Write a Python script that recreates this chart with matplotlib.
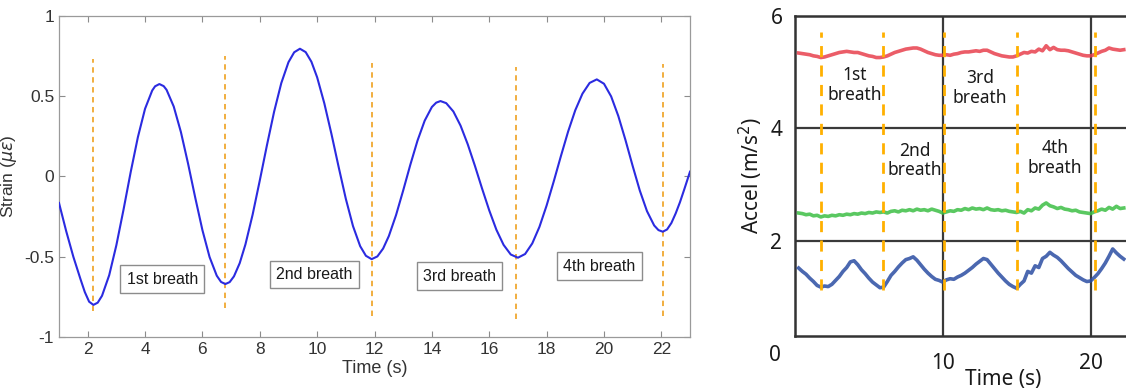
import numpy as np
import matplotlib
matplotlib.use("Agg")
import matplotlib.pyplot as plt
from matplotlib.ticker import FormatStrFormatter

plt.rcParams['axes.unicode_minus'] = False

# ---- left panel: strain sensor ----
strain_t = [1.0, 1.25, 1.5, 1.75, 1.9, 2.05, 2.2, 2.35, 2.5, 2.75, 3.0, 3.25, 3.5, 3.75,
            4.0, 4.25, 4.35, 4.5, 4.65, 4.75, 5.0, 5.25, 5.5, 5.75, 6.0, 6.25, 6.5, 6.65,
            6.8, 6.95, 7.1, 7.3, 7.5, 7.75, 8.0, 8.25, 8.5, 8.75, 9.0, 9.2, 9.4, 9.6, 9.8,
            10.0, 10.25, 10.5, 10.75, 11.0, 11.25, 11.5, 11.7, 11.9, 12.1, 12.3, 12.5,
            12.75, 13.0, 13.25, 13.5, 13.75, 14.0, 14.15, 14.3, 14.5, 14.75, 15.0, 15.25,
            15.5, 15.75, 16.0, 16.25, 16.5, 16.75, 17.0, 17.25, 17.5, 17.75, 18.0, 18.25,
            18.5, 18.75, 19.0, 19.25, 19.5, 19.75, 20.0, 20.25, 20.5, 20.75, 21.0, 21.25,
            21.5, 21.75, 21.9, 22.05, 22.2, 22.35, 22.5, 22.65, 22.8, 23.0]
strain = [-0.165, -0.34, -0.50, -0.64, -0.72, -0.78, -0.80, -0.786, -0.743, -0.615, -0.428,
          -0.206, 0.028, 0.245, 0.422, 0.536, 0.562, 0.576, 0.563, 0.540, 0.436, 0.277,
          0.080, -0.132, -0.334, -0.502, -0.618, -0.657, -0.67, -0.658, -0.622, -0.54,
          -0.423, -0.238, -0.025, 0.195, 0.404, 0.582, 0.712, 0.774, 0.796, 0.775, 0.715,
          0.618, 0.456, 0.264, 0.059, -0.139, -0.309, -0.434, -0.494, -0.515, -0.498,
          -0.449, -0.371, -0.241, -0.087, 0.074, 0.224, 0.348, 0.433, 0.460, 0.47, 0.457,
          0.405, 0.317, 0.201, 0.067, -0.075, -0.211, -0.332, -0.426, -0.486, -0.506,
          -0.483, -0.417, -0.314, -0.181, -0.030, 0.128, 0.280, 0.413, 0.516, 0.583, 0.605,
          0.578, 0.499, 0.377, 0.227, 0.066, -0.088, -0.216, -0.305, -0.334, -0.344, -0.33,
          -0.29, -0.23, -0.16, -0.08, 0.03]

strain_marks = [2.2, 6.8, 11.9, 16.95, 22.05]
strain_mark_top = [0.73, 0.75, 0.71, 0.68, 0.70]
strain_mark_bot = [-0.84, -0.82, -0.87, -0.89, -0.87]

strain_labels = ["1st breath", "2nd breath", "3rd breath", "4th breath"]
strain_label_x = [4.6, 9.9, 14.96, 19.84]
strain_label_y = [-0.64, -0.61, -0.62, -0.56]

# ---- right panel: accelerometer ----
accel_blue = [1.51, 1.45, 1.40, 1.33, 1.27, 1.20, 1.17, 1.19, 1.18, 1.22, 1.29, 1.36, 1.45,
              1.52, 1.62, 1.64, 1.57, 1.48, 1.41, 1.33, 1.26, 1.21, 1.16, 1.17, 1.27, 1.38,
              1.45, 1.53, 1.60, 1.66, 1.68, 1.71, 1.65, 1.57, 1.49, 1.42, 1.36, 1.31, 1.29,
              1.26, 1.30, 1.32, 1.31, 1.35, 1.38, 1.42, 1.47, 1.52, 1.58, 1.63, 1.68, 1.66,
              1.58, 1.50, 1.42, 1.35, 1.28, 1.22, 1.18, 1.15, 1.22, 1.28, 1.45, 1.42, 1.55,
              1.52, 1.68, 1.72, 1.79, 1.74, 1.70, 1.64, 1.57, 1.50, 1.44, 1.38, 1.34, 1.30,
              1.27, 1.28, 1.34, 1.41, 1.50, 1.60, 1.72, 1.85, 1.78, 1.72, 1.67]
accel_red = [5.34, 5.33, 5.32, 5.31, 5.29, 5.28, 5.26, 5.27, 5.29, 5.31, 5.33, 5.35, 5.36,
             5.37, 5.36, 5.35, 5.35, 5.33, 5.31, 5.29, 5.28, 5.26, 5.26, 5.27, 5.29, 5.32,
             5.35, 5.37, 5.39, 5.41, 5.42, 5.43, 5.43, 5.41, 5.38, 5.35, 5.33, 5.31, 5.30,
             5.30, 5.31, 5.30, 5.32, 5.33, 5.35, 5.36, 5.36, 5.37, 5.38, 5.37, 5.39, 5.39,
             5.36, 5.33, 5.31, 5.29, 5.28, 5.27, 5.27, 5.29, 5.32, 5.35, 5.34, 5.37, 5.36,
             5.41, 5.38, 5.47, 5.40, 5.44, 5.40, 5.39, 5.39, 5.38, 5.36, 5.34, 5.32, 5.30,
             5.29, 5.29, 5.31, 5.34, 5.37, 5.39, 5.43, 5.41, 5.40, 5.39, 5.40]
accel_green = [2.49, 2.48, 2.46, 2.47, 2.44, 2.45, 2.42, 2.44, 2.43, 2.45, 2.44, 2.46, 2.45,
               2.47, 2.46, 2.48, 2.47, 2.49, 2.48, 2.50, 2.49, 2.51, 2.50, 2.51, 2.49, 2.52,
               2.53, 2.51, 2.54, 2.53, 2.55, 2.53, 2.56, 2.54, 2.55, 2.53, 2.56, 2.54, 2.52,
               2.49, 2.51, 2.53, 2.52, 2.55, 2.54, 2.57, 2.55, 2.58, 2.56, 2.57, 2.55, 2.58,
               2.55, 2.54, 2.55, 2.53, 2.54, 2.52, 2.51, 2.50, 2.52, 2.49, 2.55, 2.53, 2.58,
               2.56, 2.63, 2.67, 2.62, 2.60, 2.57, 2.59, 2.56, 2.55, 2.53, 2.54, 2.51, 2.50,
               2.49, 2.48, 2.51, 2.53, 2.56, 2.54, 2.59, 2.56, 2.61, 2.57, 2.58]
accel_t = 0.25 * np.arange(1, len(accel_blue) + 1)

accel_marks = [1.76, 5.95, 10.1, 15.0, 20.3]
accel_labels = ["1st\nbreath", "2nd\nbreath", "3rd\nbreath", "4th\nbreath"]
accel_label_x = [4.05, 8.1, 12.5, 17.6]
accel_label_y = [4.77, 3.43, 4.72, 3.47]

fig = plt.figure(figsize=(11.26, 3.92), dpi=100)

# left
ax = fig.add_axes([0.0524, 0.1403, 0.5604, 0.8189])
ax.plot(strain_t, strain, color='#2b2be0', lw=1.5, zorder=3)
ax.vlines(strain_marks, strain_mark_bot, strain_mark_top, colors='#f0a830',
          linestyles=(0, (3, 2.5)), lw=1.3, zorder=2)
for lab, x, y in zip(strain_labels, strain_label_x, strain_label_y):
    ax.text(x, y, lab, ha='center', va='center', fontsize=11.5, family='Liberation Sans',
            color='#1a1a1a',
            bbox=dict(boxstyle='square,pad=0.4', fc='white', ec='#8c8c8c', lw=1.0))
ax.set_xlim(1, 23)
ax.set_ylim(-1, 1)
ax.set_xticks(range(2, 23, 2))
ax.set_yticks([-1, -0.5, 0, 0.5, 1])
ax.yaxis.set_major_formatter(FormatStrFormatter('%g'))
ax.tick_params(direction='in', length=4, top=True, right=True, colors='#8c8c8c',
               labelcolor='#333333', labelsize=12.5, width=0.8)
for lab in ax.get_xticklabels() + ax.get_yticklabels():
    lab.set_family('Liberation Sans')
for s in ax.spines.values():
    s.set_color('#9a9a9a')
    s.set_linewidth(0.9)
ax.set_xlabel('Time (s)', fontsize=13, family='Liberation Sans', color='#333333', labelpad=2)
ax.set_ylabel(r'Strain ($\mu\epsilon$)', fontsize=12.5, family='Liberation Sans',
              color='#333333', labelpad=4)

# right
ax2 = fig.add_axes([0.706, 0.1429, 0.294, 0.8163])
ax2.set_xlim(0, 22.4)
ax2.set_ylim(0.3, 6)
for x in [10, 20]:
    ax2.axvline(x, color='#3a3a3a', lw=1.6, zorder=1)
for y in [2, 4]:
    ax2.axhline(y, color='#3a3a3a', lw=1.6, zorder=1)
ax2.plot(accel_t, accel_red, color='#e8414e', lw=2.6, alpha=0.85, zorder=3)
ax2.plot(accel_t, accel_green, color='#3dbf45', lw=2.6, alpha=0.85, zorder=3)
ax2.plot(accel_t, accel_blue, color='#2b4da3', lw=2.6, alpha=0.85, zorder=3)
ax2.vlines(accel_marks, 1.12, 5.71, colors='#ffb000', linestyles=(0, (4, 3)), lw=2.0,
           zorder=4)
for lab, x, y in zip(accel_labels, accel_label_x, accel_label_y):
    ax2.text(x, y, lab, ha='center', va='center', fontsize=12.5, family='Noto Sans',
             color='#1a1a1a', linespacing=1.1, zorder=5)
ax2.set_xticks([10, 20])
ax2.set_yticks([2, 4, 6])
ax2.tick_params(length=0, labelsize=15, labelcolor='#1a1a1a')
ax2.tick_params(axis='x', pad=12)
ax2.tick_params(axis='y', pad=9)
for lab in ax2.get_xticklabels() + ax2.get_yticklabels():
    lab.set_family('Noto Sans')
ax2.text(-1.35, -0.04, '0', ha='center', va='center', fontsize=15, family='Noto Sans',
         color='#1a1a1a')
for s in ax2.spines.values():
    s.set_color('#333333')
    s.set_linewidth(1.8)
ax2.spines['right'].set_visible(False)
ax2.set_xlabel('Time (s)', fontsize=15, family='Noto Sans', color='#1a1a1a', va='center')
ax2.xaxis.set_label_coords(0.628, -0.1375)
ax2.set_ylabel(r'Accel (m/s$^{2}$)', fontsize=15, family='Noto Sans', color='#1a1a1a',
               labelpad=4)

fig.savefig('out.png', dpi=100)
